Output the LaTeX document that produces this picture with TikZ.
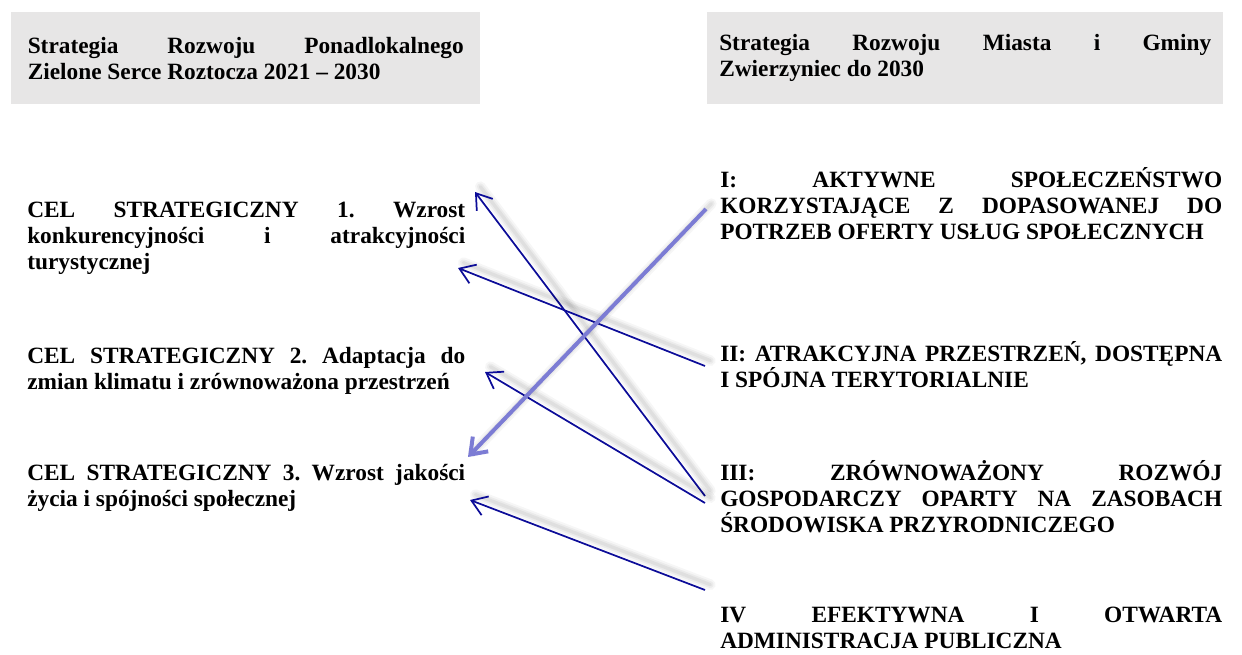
\documentclass[tikz,border=0pt]{standalone}
\usepackage{fontspec}
\setmainfont{Liberation Serif}
\frenchspacing
\usepackage{tikz}
\usetikzlibrary{arrows.meta, calc}
\definecolor{headgray}{HTML}{E7E6E6}
\definecolor{linkblue}{HTML}{0C0C98}
\definecolor{linkviolet}{HTML}{7C7CD4}
\tikzset{
    headbox/.style={
        rectangle, fill=headgray, draw=none, inner sep=0pt,
        minimum height=69pt, align=justify, text width=#1,
        font=\fontsize{17.5}{19.5}\selectfont\bfseries
    },
    goaltext/.style={
        anchor=base west, inner sep=0pt, align=justify, text width=#1,
        font=\fontsize{17.5}{19.5}\selectfont\bfseries,
        execute at begin node={\hyphenpenalty=10000 \tolerance=10000 }
    },
    softshadow/.style={
        preaction={draw=black, draw opacity=0.035, line width=8pt, arrows=-, line cap=round,
            transform canvas={xshift=4pt, yshift=4pt}},
        preaction={draw=black, draw opacity=0.045, line width=5pt, arrows=-, line cap=round,
            transform canvas={xshift=4pt, yshift=4pt}},
        preaction={draw=black, draw opacity=0.05, line width=2.5pt, arrows=-, line cap=round,
            transform canvas={xshift=4pt, yshift=4pt}}
    },
    linkarrow/.style={
        softshadow, -{Straight Barb[length=11pt, width=15pt]}, line width=1.3pt, color=linkblue
    },
    boldlink/.style={
        softshadow, -{Straight Barb[length=11pt, width=16pt]}, line width=3pt, color=linkviolet
    },
}

\begin{document}
\begin{tikzpicture}[x=0.75pt, y=-0.75pt]
    \useasboundingbox (0,0) rectangle (1242,655);

    % Headers
    \node[headbox=327pt, minimum width=351.75pt, anchor=north west] (hdleft) at (11,12)
        {Strategia Rozwoju Ponadlokalnego\linebreak Zielone Serce Roztocza 2021 – 2030};
    \node[headbox=369pt, minimum width=387pt, anchor=north west] (hdright) at (707,12)
        {Strategia Rozwoju Miasta i Gminy\linebreak Zwierzyniec do 2030};

    % Left column: strategic goals
    \node[goaltext=328.5pt] (cel1) at (27,218)
        {CEL STRATEGICZNY 1. Wzrost\linebreak konkurencyjności i atrakcyjności\linebreak turystycznej};
    \node[goaltext=328.5pt] (cel2) at (27,364)
        {CEL STRATEGICZNY 2. Adaptacja do\linebreak zmian klimatu i zrównoważona przestrzeń};
    \node[goaltext=328.5pt] (cel3) at (27,481)
        {CEL STRATEGICZNY 3. Wzrost jakości\linebreak życia i spójności społecznej};

    % Right column: municipal objectives
    \node[goaltext=376.5pt] (obj1) at (720,188)
        {I: AKTYWNE SPOŁECZEŃSTWO\linebreak KORZYSTAJĄCE Z DOPASOWANEJ DO\linebreak POTRZEB OFERTY USŁUG SPOŁECZNYCH};
    \node[goaltext=376.5pt] (obj2) at (720,362)
        {II: ATRAKCYJNA PRZESTRZEŃ, DOSTĘPNA\linebreak I SPÓJNA TERYTORIALNIE};
    \node[goaltext=376.5pt] (obj3) at (720,481)
        {III: ZRÓWNOWAŻONY ROZWÓJ\linebreak GOSPODARCZY OPARTY NA ZASOBACH\linebreak ŚRODOWISKA PRZYRODNICZEGO};
    \node[goaltext=376.5pt] (obj4) at (720,622)
        {IV EFEKTYWNA I OTWARTA\linebreak ADMINISTRACJA PUBLICZNA};

    % Connector ends
    \coordinate (obj1-out) at (706,209);
    \coordinate (obj2-out) at (705,366);
    \coordinate (obj3-outa) at (705,496);
    \coordinate (obj3-outb) at (705,503);
    \coordinate (obj4-out) at (705,590);
    \coordinate (cel1-ina) at (475,192);
    \coordinate (cel1-inb) at (458,268);
    \coordinate (cel2-in) at (485,372);
    \coordinate (cel3-ina) at (468,457);
    \coordinate (cel3-inb) at (470,500);

    % Links
    \draw[linkarrow] (obj3-outa) -- (cel1-ina);
    \draw[linkarrow] (obj2-out) -- (cel1-inb);
    \draw[linkarrow] (obj3-outb) -- (cel2-in);
    \draw[linkarrow] (obj4-out) -- (cel3-inb);
    \draw[boldlink] (obj1-out) -- (cel3-ina);

\end{tikzpicture}
\end{document}
